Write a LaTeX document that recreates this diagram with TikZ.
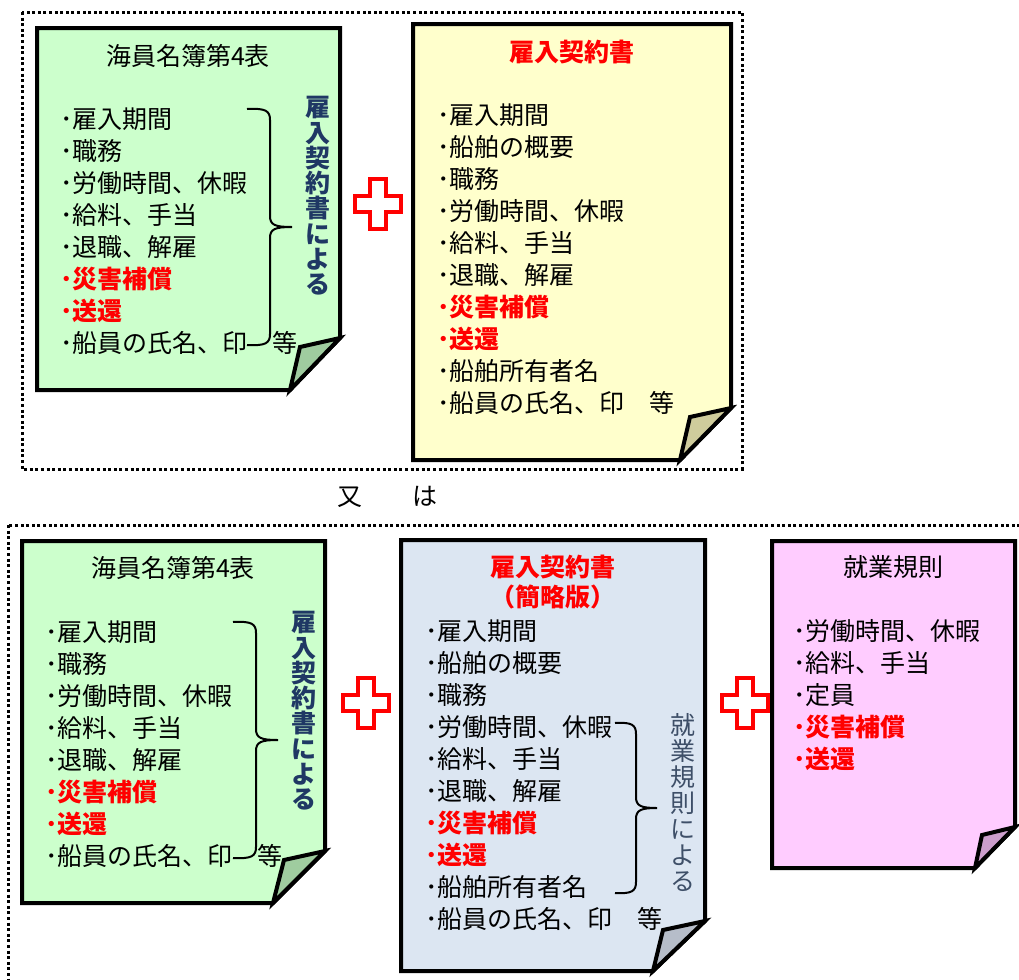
\documentclass[tikz,border=0pt]{standalone}
\usepackage{fontspec}
\setmainfont{Noto Sans CJK JP}

\definecolor{greenbg}{HTML}{CCFFCC}
\definecolor{greenfold}{HTML}{9FCC9F}
\definecolor{yellowbg}{HTML}{FFFFCC}
\definecolor{yellowfold}{HTML}{CFCC9C}
\definecolor{bluebg}{HTML}{DCE6F2}
\definecolor{bluefold}{HTML}{B6BDC9}
\definecolor{pinkbg}{HTML}{FFCCFF}
\definecolor{pinkfold}{HTML}{CC9ECC}
\definecolor{navy}{HTML}{1F3864}
\definecolor{slate}{HTML}{3E4F68}

\newcommand{\akaitem}[1]{{\color{red}\bfseries #1}}

\begin{document}
\begin{tikzpicture}[x=0.5pt,y=-0.5pt,
    doc/.style={draw,line width=2pt,line join=miter},
    item/.style={anchor=west,inner sep=0pt,font=\fontsize{12.5}{15}\selectfont},
    title/.style={inner sep=0pt,font=\fontsize{12.5}{15}\selectfont},
    vtext/.style={align=center,inner sep=0pt},
    kakko/.style={line width=1pt},
    dotbox/.style={line width=1.5pt,dash pattern=on 1.5pt off 1.3pt},
    cross/.pic={\draw[red,line width=1.8pt,fill=white] (-8,-25) -- (8,-25) -- (8,-8) -- (23,-8) -- (23,8) -- (8,8) -- (8,25) -- (-8,25) -- (-8,8) -- (-23,8) -- (-23,-8) -- (-8,-8) -- cycle;}]
  \clip (0,0) rectangle (1019,980);

  % dotted frames
  \draw[dotbox] (22,12) rectangle (742,469);
  \draw[dotbox] (8,525) rectangle (1040,1010);

  % upper row
  \path[doc,fill=greenbg] (37,28) -- (340,28) -- (340,338) -- (290,390) -- (37,390) -- cycle;
  \path[doc,fill=greenfold] (340,338) -- (300,347) -- (290,390) -- cycle;
  \node[title] (meibo1) at (188,56) {海員名簿第4表};
  \foreach \t [count=\i from 0] in {･雇入期間,･職務,･労働時間、休暇,･給料、手当,･退職、解雇,\akaitem{･災害補償},\akaitem{･送還},･船員の氏名、印　等}
    \node[item] (a\i) at (60,119+32*\i) {\t};
  \draw[kakko] (247,109) .. controls (266,108) and (270,111) .. (270,120) -- (270,216) .. controls (270,225) and (275,227) .. (292,227)
    .. controls (275,227) and (270,229) .. (270,238) -- (270,334) .. controls (270,343) and (266,346) .. (247,345);
  \node[vtext,text=navy,font=\bfseries\fontsize{12.5}{12.65}\selectfont] (yori1) at (318,196) {雇\\入\\契\\約\\書\\に\\よ\\る};

  \pic at (378,204) {cross};

  \path[doc,fill=yellowbg] (413,24) -- (731,24) -- (731,408) -- (680,460) -- (413,460) -- cycle;
  \path[doc,fill=yellowfold] (731,408) -- (690,417) -- (680,460) -- cycle;
  \node[title,text=red,font=\bfseries\fontsize{12.5}{15}\selectfont] (keiyaku1) at (572,52) {雇入契約書};
  \foreach \t [count=\i from 0] in {･雇入期間,･船舶の概要,･職務,･労働時間、休暇,･給料、手当,･退職、解雇,\akaitem{･災害補償},\akaitem{･送還},･船舶所有者名,･船員の氏名、印　等}
    \node[item] (b\i) at (437,115+32*\i) {\t};

  \node[title] (mata) at (387,497) {又　　は};

  % lower row
  \path[doc,fill=greenbg] (22,541) -- (325,541) -- (325,851) -- (273,903) -- (22,903) -- cycle;
  \path[doc,fill=greenfold] (325,851) -- (284,860) -- (273,903) -- cycle;
  \node[title] (meibo2) at (173,568) {海員名簿第4表};
  \foreach \t [count=\i from 0] in {･雇入期間,･職務,･労働時間、休暇,･給料、手当,･退職、解雇,\akaitem{･災害補償},\akaitem{･送還},･船員の氏名、印　等}
    \node[item] (c\i) at (45,632+32*\i) {\t};
  \draw[kakko] (233,622) .. controls (252,621) and (256,624) .. (256,633) -- (256,729) .. controls (256,738) and (261,740) .. (278,740)
    .. controls (261,740) and (256,742) .. (256,751) -- (256,847) .. controls (256,856) and (252,859) .. (233,858);
  \node[vtext,text=navy,font=\bfseries\fontsize{12.5}{12.65}\selectfont] (yori2) at (304,711) {雇\\入\\契\\約\\書\\に\\よ\\る};

  \pic at (366,703) {cross};

  \path[doc,fill=bluebg] (401,540) -- (705,540) -- (705,921) -- (653,971) -- (401,971) -- cycle;
  \path[doc,fill=bluefold] (705,921) -- (663,930) -- (653,971) -- cycle;
  \node[title,text=red,font=\bfseries\fontsize{12.5}{15}\selectfont] (keiyaku2) at (553,567) {雇入契約書};
  \node[title,text=red,font=\bfseries\fontsize{12.5}{15}\selectfont] (ryaku) at (553,597) {（簡略版）};
  \foreach \t [count=\i from 0] in {･雇入期間,･船舶の概要,･職務,･労働時間、休暇,･給料、手当,･退職、解雇,\akaitem{･災害補償},\akaitem{･送還},･船舶所有者名,･船員の氏名、印　等}
    \node[item] (d\i) at (425,631+32*\i) {\t};
  \draw[kakko] (615,723) .. controls (632,722) and (636,725) .. (636,734) -- (636,797) .. controls (636,806) and (641,808) .. (657,808)
    .. controls (641,808) and (636,810) .. (636,819) -- (636,882) .. controls (636,891) and (632,894) .. (615,893);
  \node[vtext,text=slate,font=\fontsize{12.5}{13}\selectfont] (yori3) at (683,803) {就\\業\\規\\則\\に\\よ\\る};

  \pic at (745,703) {cross};

  \path[doc,fill=pinkbg] (772,541) -- (1015,541) -- (1015,827) -- (975,868) -- (772,868) -- cycle;
  \path[doc,fill=pinkfold] (1015,827) -- (982,835) -- (975,868) -- cycle;
  \node[title] (kisoku) at (893,567) {就業規則};
  \foreach \t [count=\i from 0] in {･労働時間、休暇,･給料、手当,･定員,\akaitem{･災害補償},\akaitem{･送還}}
    \node[item] (e\i) at (793,631+32*\i) {\t};
\end{tikzpicture}
\end{document}
